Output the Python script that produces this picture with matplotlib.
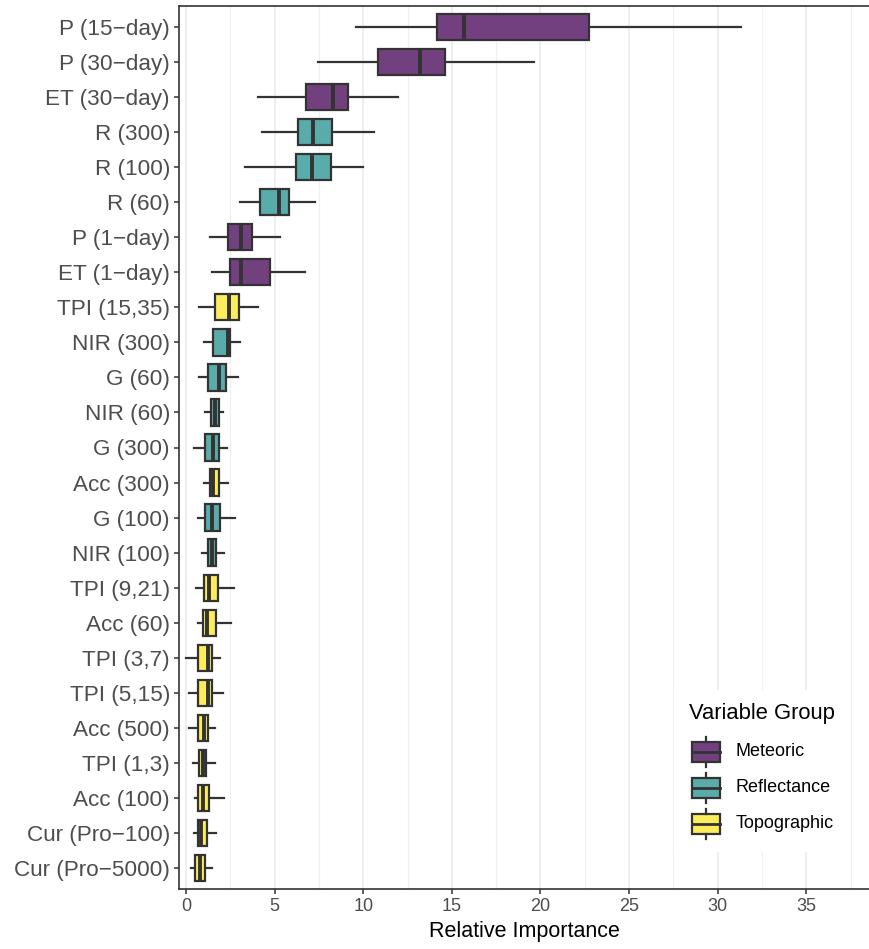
import matplotlib
matplotlib.use("Agg")
import matplotlib.pyplot as plt
from matplotlib.patches import Rectangle
from matplotlib.lines import Line2D
from matplotlib.ticker import MultipleLocator

plt.rcParams['font.family'] = ['Liberation Sans', 'DejaVu Sans']

# Variables listed top to bottom, with their group and box-plot statistics
variables = ["P (15\u2212day)", "P (30\u2212day)", "ET (30\u2212day)", "R (300)", "R (100)",
             "R (60)", "P (1\u2212day)", "ET (1\u2212day)", "TPI (15,35)", "NIR (300)",
             "G (60)", "NIR (60)", "G (300)", "Acc (300)", "G (100)", "NIR (100)",
             "TPI (9,21)", "Acc (60)", "TPI (3,7)", "TPI (5,15)", "Acc (500)",
             "TPI (1,3)", "Acc (100)", "Cur (Pro\u2212100)", "Cur (Pro\u22125000)"]
groups = ["Meteoric", "Meteoric", "Meteoric", "Reflectance", "Reflectance",
          "Reflectance", "Meteoric", "Meteoric", "Topographic", "Reflectance",
          "Reflectance", "Reflectance", "Reflectance", "Topographic", "Reflectance",
          "Reflectance", "Topographic", "Topographic", "Topographic", "Topographic",
          "Topographic", "Topographic", "Topographic", "Topographic", "Topographic"]
whisker_low = [9.57, 7.43, 4.08, 4.26, 3.30, 3.07, 1.36, 1.46, 0.73, 1.03,
               0.75, 1.07, 0.47, 1.03, 0.66, 0.90, 0.56, 0.70, 0.02, 0.19,
               0.17, 0.39, 0.49, 0.43, 0.26]
q1 = [14.18, 10.81, 6.78, 6.30, 6.20, 4.18, 2.39, 2.47, 1.65, 1.52,
      1.24, 1.39, 1.07, 1.33, 1.09, 1.22, 1.02, 0.98, 0.68, 0.68,
      0.68, 0.72, 0.66, 0.68, 0.49]
median = [15.67, 13.22, 8.29, 7.18, 7.13, 5.26, 3.12, 3.12, 2.41, 2.37,
          1.84, 1.62, 1.52, 1.52, 1.48, 1.47, 1.32, 1.18, 1.22, 1.22,
          1.02, 0.95, 0.98, 0.86, 0.77]
q3 = [22.72, 14.63, 9.14, 8.24, 8.19, 5.79, 3.70, 4.76, 3.01, 2.46,
      2.26, 1.88, 1.88, 1.86, 1.90, 1.71, 1.79, 1.67, 1.45, 1.45,
      1.24, 1.12, 1.32, 1.17, 1.09]
whisker_high = [31.33, 19.62, 11.96, 10.63, 10.00, 7.28, 5.31, 6.73, 4.04, 3.03,
                2.93, 2.09, 2.29, 2.35, 2.76, 2.12, 2.73, 2.52, 1.90, 2.07,
                1.64, 1.64, 2.12, 1.71, 1.45]
group_names = ["Meteoric", "Reflectance", "Topographic"]
group_colors = {"Meteoric": "#73407F", "Reflectance": "#59ACA9", "Topographic": "#FDED5C"}

W, H = 870, 949
fig = plt.figure(figsize=(W / 100, H / 100), dpi=100)
ax = fig.add_axes([179 / W, 1 - 889 / H, 1 - 179 / W, (889 - 6) / H])

edge = "#333333"
n = len(variables)
positions = [n - i for i in range(n)]
stats = [dict(whislo=whisker_low[i], q1=q1[i], med=median[i], q3=q3[i],
              whishi=whisker_high[i], fliers=[]) for i in range(n)]
bp = ax.bxp(stats, positions=positions, widths=0.75, orientation='horizontal',
            patch_artist=True, showcaps=False, showfliers=False,
            boxprops=dict(edgecolor=edge, linewidth=1.6),
            whiskerprops=dict(color=edge, linewidth=1.6),
            medianprops=dict(color=edge, linewidth=2.8, solid_capstyle='butt'),
            manage_ticks=False)
for patch, g in zip(bp['boxes'], groups):
    patch.set_facecolor(group_colors[g])
    patch.set_zorder(3)
for m in bp['medians']:
    m.set_zorder(4)

ax.set_yticks(positions)
ax.set_yticklabels(variables)
ax.set_ylim(0.4, n + 0.6)
ax.set_xlim(-0.4, 38.6)
ax.xaxis.set_major_locator(MultipleLocator(5))
ax.xaxis.set_minor_locator(MultipleLocator(2.5))
ax.set_axisbelow(True)
ax.grid(axis='x', which='major', color='#EBEBEB', linewidth=1.2)
ax.grid(axis='x', which='minor', color='#F0F0F0', linewidth=0.9)
ax.grid(axis='y', visible=False)
ax.tick_params(axis='both', which='major', length=3.5, width=1.1, color=edge,
               labelcolor='#4D4D4D')
ax.tick_params(axis='y', labelsize=16.2, pad=3)
ax.tick_params(axis='x', labelsize=13, pad=3)
ax.tick_params(axis='x', which='minor', length=0)
for side in ['left', 'bottom', 'top']:
    ax.spines[side].set_color(edge)
    ax.spines[side].set_linewidth(1.2)
ax.spines['right'].set_visible(False)
ax.set_xlabel("Relative Importance", fontsize=15.5, color='black', labelpad=4)


def fx(px):
    return px / W


def fy(py):
    return 1 - py / H


# Legend for the variable groups
tf = fig.transFigure
ax.add_patch(Rectangle((fx(674), fy(852)), fx(850) - fx(674), fy(690) - fy(852),
                       transform=tf, facecolor='white', edgecolor='none',
                       zorder=6, clip_on=False))
ax.text(fx(689), fy(713), "Variable Group", transform=tf, fontsize=15.8,
        ha='left', va='center', color='black', zorder=7)
key_y = [752, 788, 824]
for g, ky in zip(group_names, key_y):
    ax.add_patch(Rectangle((fx(692), fy(ky + 10)), fx(720) - fx(692), fy(ky - 10) - fy(ky + 10),
                           transform=tf, facecolor=group_colors[g], edgecolor=edge,
                           linewidth=1.6, zorder=7, clip_on=False))
    ax.add_line(Line2D([fx(692), fx(720)], [fy(ky), fy(ky)], transform=tf, color=edge,
                       linewidth=2.0, zorder=8, clip_on=False))
    ax.add_line(Line2D([fx(706), fx(706)], [fy(ky - 10), fy(ky - 15)], transform=tf,
                       color=edge, linewidth=1.6, zorder=8, clip_on=False))
    ax.add_line(Line2D([fx(706), fx(706)], [fy(ky + 10), fy(ky + 15)], transform=tf,
                       color=edge, linewidth=1.6, zorder=8, clip_on=False))
    ax.text(fx(736), fy(ky), g, transform=tf, fontsize=13, ha='left', va='center',
            color='black', zorder=8)

fig.savefig("out.png", dpi=100)
